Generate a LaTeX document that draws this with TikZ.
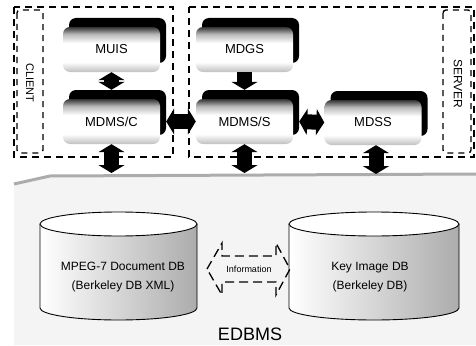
\documentclass[tikz,border=0pt]{standalone}
\usepackage{fontspec}
\setmainfont{Liberation Sans}
\usetikzlibrary{arrows.meta,shadows}

% front face of the module boxes (the picture's y axis points down, so 0bp is the top):
% grey on top, white in the middle, dark at the bottom
\pgfdeclareverticalshading{boxface}{100bp}{%
  color(0bp)=(gray!50); color(25bp)=(gray!50); color(36bp)=(white);
  color(57bp)=(white); color(67bp)=(gray!55); color(75bp)=(black!80); color(100bp)=(black!80)}

\tikzset{
  modbox/.style={shade, shading=boxface, rounded corners=7pt,
    minimum width=97pt, minimum height=45pt, inner sep=0pt,
    font=\fontsize{13}{15}\selectfont,
    general shadow={shadow xshift=6pt, shadow yshift=9pt, fill=black}},
  blk/.style={line width=15pt, black},
  zone/.style={dash pattern=on 7pt off 5pt, line width=1.8pt},
  tag/.style={dash pattern=on 6pt off 5pt, line width=1.4pt, rounded corners=3pt},
  dbtext/.style={align=center, font=\fontsize{12}{19}\selectfont},
  >={Triangle[width=26pt,length=8pt]}
}

\begin{document}
\begin{tikzpicture}[x=1pt, y=-1pt]
\useasboundingbox (0,0) rectangle (476,345);

% EDBMS storage area
\fill[gray!9] (14,184) -- (50,176) -- (476,174) -- (476,345) -- (14,345) -- cycle;
\draw[gray!65, line width=3pt] (14,184) -- (50,176) -- (476,174);

% client and server zones
\draw[zone] (14,7) rectangle (173,157);
\draw[tag] (17,10) rectangle (43,153);
\node[rotate=-90, font=\fontsize{11}{12}\selectfont] (client) at (30,83) {CLIENT};
\draw[zone] (189,7) -- (474,7) -- (474,157) -- (189,157) -- cycle;
\draw[tag] (443,10) rectangle (471,153);
\node[rotate=-90, font=\fontsize{12}{13}\selectfont] (server) at (458,84) {SERVER};

% modules
\node[modbox] (muis)  at (111.5,49.5)  {MUIS};
\node[modbox] (mdmsc) at (111.5,121.5) {MDMS/C};
\node[modbox] (mdgs)  at (244.5,49.5)  {MDGS};
\node[modbox] (mdmss) at (244.5,121.5) {MDMS/S};
\node[modbox] (mdss)  at (373,122.5)   {MDSS};

% connections between modules
\draw[blk,<->] (muis.south) -- ([yshift=9pt]mdmsc.north);
\draw[blk,->]  (mdgs.south) -- ([yshift=9pt]mdmss.north);
\draw[blk,<->] ([xshift=6pt]mdmsc.east) -- (mdmss.west);
\draw[blk,<->] ([xshift=6pt]mdmss.east) -- (mdss.west);

% links down to the storage area
\coordinate (s1) at (111.5,173);
\coordinate (s2) at (244.5,173);
\coordinate (s3) at (376,174);
\draw[blk,<->] (mdmsc.south) -- (s1);
\draw[blk,<->] (mdmss.south) -- (s2);
\draw[blk,<->] ([xshift=3pt]mdss.south) -- (s3);

% document database cylinder
\shade[left color=white, middle color=white, right color=gray!65]
  (40,224) -- (40,308) arc[start angle=180, end angle=0, x radius=78.5, y radius=12] -- (197,224) -- cycle;
\draw[line width=0.9pt] (40,224) -- (40,308) arc[start angle=180, end angle=0, x radius=78.5, y radius=12] -- (197,224);
\draw[line width=0.9pt, fill=white] (118.5,224) ellipse[x radius=78.5, y radius=12];
\node[dbtext] (docdb) at (123,277) {MPEG-7 Document DB\\(Berkeley DB XML)};

% key image database cylinder
\shade[left color=white, middle color=white, right color=gray!65]
  (289,224) -- (289,308) arc[start angle=180, end angle=0, x radius=85, y radius=12] -- (459,224) -- cycle;
\draw[line width=0.9pt] (289,224) -- (289,308) arc[start angle=180, end angle=0, x radius=85, y radius=12] -- (459,224);
\draw[line width=0.9pt, fill=white] (374,224) ellipse[x radius=85, y radius=12];
\node[dbtext] (imgdb) at (370,277) {Key Image DB\\(Berkeley DB)};

% information exchange between the two databases
\node[font=\fontsize{9}{10}\selectfont] (info) at (249,269) {Information};
\draw[dash pattern=on 9pt off 5pt, line width=1.3pt]
  (207,269) -- (222,243) -- (222,256) -- (276,256) -- (276,243) -- (290,269)
  -- (276,295) -- (276,282) -- (222,282) -- (222,295) -- cycle;

\node[font=\fontsize{18}{20}\selectfont] (edbms) at (250,334) {EDBMS};
\end{tikzpicture}
\end{document}
